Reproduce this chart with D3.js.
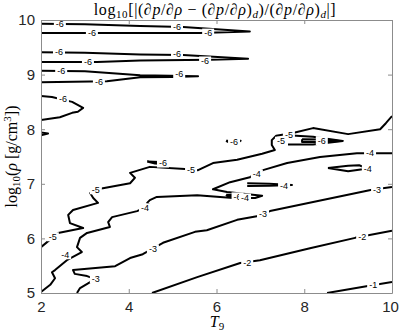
<!DOCTYPE html>
<html>
<head>
<meta charset="utf-8">
<script src="https://cdn.jsdelivr.net/npm/d3@7"></script>
<style>
  body { margin: 0; background: white; }
  text { font-family: "Liberation Sans", Arial, sans-serif; }
</style>
</head>
<body>
<div id="container"></div>
<script>
// ticks
const T9_TICKS = [2, 4, 6, 8, 10];
const RHO_TICKS = [5, 6, 7, 8, 9, 10];

// contour polylines, points are [T9, log10 rho]
const neg6_1 = [[2,9.93],[3.0,9.92],[4.26,9.89],[5.24,9.87],[6.76,9.79],[5.62,9.76],[4.26,9.76],[2,9.76]];
const neg6_2 = [[2,9.41],[3.0,9.40],[4.26,9.37],[5.24,9.36],[6.72,9.29],[5.85,9.27],[4.26,9.26],[3.28,9.23],[2,9.23]];
const neg6_3 = [[2,9.07],[3.0,9.06],[4.26,8.99],[4.94,8.98],[5.58,8.97],[5.0,8.955],[4.26,8.95],[3.5,8.88],[2,8.86]];
const neg6_4 = [[2,8.61],[2.25,8.59],[2.71,8.50],[2.96,8.39],[2.84,8.32],[2.71,8.30],[2.43,8.22],[2,8.17]];
const neg6_5 = [[2,7.94],[2.16,7.92],[2,7.89]];
const neg6_6 = [[7.95,7.815],[8.4,7.81],[8.8,7.785],[8.4,7.765],[7.95,7.765],[7.95,7.815]];
const neg6_7 = [[6.22,7.79],[6.55,7.79],[6.50,7.76],[6.25,7.77],[6.22,7.79]];
const neg6_8 = [[4.42,7.41],[4.70,7.40],[4.85,7.36],[4.60,7.37],[4.42,7.41]];
const neg6_9 = [[6.22,6.80],[6.55,6.79],[6.50,6.75],[6.25,6.77],[6.22,6.80]];

const neg5_1 = [[10,8.24],[9.86,8.11],[9.73,8.00],[9.00,7.91],[8.20,8.02],[7.74,7.93],[7.36,7.88],
  [7.26,7.80],[7.26,7.71],[7.33,7.62],[7.04,7.55],[6.47,7.44],[5.92,7.38],[5.58,7.25],[5.28,7.27],
  [4.48,7.31],[4.03,7.20],[4.14,7.11],[4.03,7.01],[3.41,6.92],[3.12,6.83],[3.19,6.74],[3.30,6.65],
  [2.73,6.52],[2.62,6.43],[2.66,6.28],[2.96,6.19],[2.39,6.10],[2,5.84]];
const neg5_2 = [[7.63,7.89],[8.2,7.86],[8.88,7.785],[8.2,7.72],[7.63,7.72]];

const neg4_1 = [[10,7.56],[9.20,7.56],[8.36,7.49],[7.61,7.38],[7.06,7.25],[6.76,7.12],[6.31,7.03],
  [5.92,6.90],[6.24,6.85],[7.04,6.78],[6.88,6.74],[6.38,6.74],[5.56,6.79],[4.64,6.76],[4.48,6.70],
  [4.42,6.65],[4.48,6.61],[4.19,6.50],[3.62,6.39],[3.53,6.30],[3.57,6.21],[3.05,6.10],[2.89,6.01],
  [2.82,5.84],[2.93,5.75],[2.59,5.60],[2.32,5.42],[2.25,5.38],[2.32,5.27],[2.21,5.15],[2,5.02]];
const neg4_2 = [[8.54,7.29],[9.0,7.33],[9.25,7.34],[9.45,7.28],[9.0,7.23],[8.54,7.29]];
const neg4_3 = [[6.70,7.01],[7.2,7.0],[7.72,6.98],[7.2,6.965],[6.70,6.96]];

const neg3 = [[10,6.94],[9.54,6.89],[7.22,6.50],[6.95,6.41],[6.47,6.34],[5.78,6.15],[5.51,6.12],
  [4.78,5.92],[4.32,5.71],[4.03,5.64],[3.69,5.49],[2.73,5.42],[2.77,5.35],[3.05,5.31],[3.19,5.27],
  [3.12,5.20],[2.89,5.09],[2.82,5.0]];
const neg2 = [[10,6.14],[9.16,6.01],[8.13,5.82],[6.99,5.60],[6.54,5.55],[5.56,5.29],[4.53,5.0]];
const neg1 = [[10,5.20],[9.45,5.13],[8.52,5.0]];

// contour labels [T9, log10 rho], grouped by level
const labels6 = [[2.43,9.93],[5.10,9.87],[3.16,9.76],[5.81,9.76],[2.41,9.41],[5.10,9.38],[3.07,9.23],
  [5.74,9.25],[2.46,9.07],[5.15,9.01],[3.32,8.86],[2.50,8.55],[8.40,7.79],[6.40,7.77],[4.78,7.38],[6.48,6.76]];
const labels5 = [[7.65,7.89],[7.47,7.78],[5.42,7.25],[3.25,6.89],[2.27,6.03]];
const labels4 = [[9.50,7.56],[6.92,7.18],[6.65,6.74],[4.37,6.56],[2.55,5.70],[9.45,7.27],[7.54,6.96]];
const labels3 = [[9.66,6.89],[7.06,6.45],[4.55,5.81],[3.25,5.26]];
const labels2 = [[9.32,6.03],[6.70,5.55]];
const labels1 = [[9.57,5.15]];

let lines = [neg6_1, neg6_2, neg6_3, neg6_4, neg6_5, neg6_6, neg6_7, neg6_8, neg6_9,
  neg5_1, neg5_2, neg4_1, neg4_2, neg4_3, neg3, neg2, neg1];
let labels = [];
[[labels6,-6],[labels5,-5],[labels4,-4],[labels3,-3],[labels2,-2],[labels1,-1]].forEach(function(g){
  g[0].forEach(function(p){ labels.push({t: p[0], r: p[1], level: g[1]}); });
});

let w = 399;
let h = 332;
let padL = 41, padR = 392, padT = 20, padB = 293;
let axisGray = "#8c8c8c";
let inkColor = "#262626";

let viz = d3.select("#container").append("svg")
    .attr("width", w)
    .attr("height", h)
    .style("background-color", "white");

let x = d3.scaleLinear().domain([2, 10]).range([padL, padR]);
let y = d3.scaleLinear().domain([5, 10]).range([padB, padT]);

viz.append("clipPath").attr("id", "plotclip")
  .append("rect")
    .attr("x", padL).attr("y", padT)
    .attr("width", padR - padL).attr("height", padB - padT);

let plot = viz.append("g").attr("clip-path", "url(#plotclip)");

let pathMaker = d3.line()
    .x(d => x(d[0]))
    .y(d => y(d[1]));

plot.selectAll(".contour").data(lines).enter()
  .append("path")
    .attr("class", "contour")
    .attr("d", pathMaker)
    .attr("fill", "none")
    .attr("stroke", "black")
    .attr("stroke-width", 2)
    .attr("stroke-linejoin", "round");

// labels sit in a white gap of the line
let lab = plot.selectAll(".clabel").data(labels).enter()
  .append("g")
    .attr("class", "clabel")
    .attr("transform", d => "translate(" + x(d.t) + "," + y(d.r) + ")");

lab.append("rect")
    .attr("x", -6).attr("y", -4.5)
    .attr("width", 12).attr("height", 9)
    .attr("fill", "white");

lab.append("text")
    .attr("text-anchor", "middle")
    .attr("dy", "0.35em")
    .style("font-size", "9px")
    .attr("fill", "black")
    .text(d => d.level);

// axes, ticks pointing in on all four sides
function styleAxis(g) {
  g.select(".domain").attr("stroke", axisGray);
  g.selectAll(".tick line").attr("stroke", axisGray);
  g.selectAll(".tick text").attr("fill", inkColor).style("font-size", "15px")
    .style("font-family", "'Liberation Sans', Arial, sans-serif");
}

let xAxisG = viz.append("g")
    .attr("transform", "translate(0," + padB + ")")
    .call(d3.axisBottom(x).tickValues(T9_TICKS).tickFormat(d3.format("d"))
      .tickSizeInner(-4).tickSizeOuter(0).tickPadding(8))
    .call(styleAxis);
// last label hugs the right edge
xAxisG.selectAll(".tick text").filter(d => d == 10).attr("dx", -2);

viz.append("g")
    .attr("transform", "translate(0," + padT + ")")
    .call(d3.axisTop(x).tickValues(T9_TICKS).tickFormat("")
      .tickSizeInner(-4).tickSizeOuter(0))
    .call(styleAxis);

viz.append("g")
    .attr("transform", "translate(" + padL + ",0)")
    .call(d3.axisLeft(y).tickValues(RHO_TICKS).tickFormat(d3.format("d"))
      .tickSizeInner(-4).tickSizeOuter(0).tickPadding(6))
    .call(styleAxis);

viz.append("g")
    .attr("transform", "translate(" + padR + ",0)")
    .call(d3.axisRight(y).tickValues(RHO_TICKS).tickFormat("")
      .tickSizeInner(-4).tickSizeOuter(0))
    .call(styleAxis);

// title (latex-ish)
let serif = "'Liberation Serif', 'DejaVu Serif', serif";
let title = viz.append("text")
    .attr("x", 215).attr("y", 15)
    .attr("text-anchor", "middle")
    .attr("fill", "black")
    .style("font-family", serif)
    .style("font-size", "16px")
    .style("letter-spacing", "0.6px");

function pieces(sel, parts) {
  parts.forEach(function(p) {
    let t = sel.append("tspan").text(p[0]);
    if (p[1] == "i") t.style("font-style", "italic");
    if (p[1] == "sub" || p[1] == "subi") {
      t.attr("dy", 3).style("font-size", "11px");
      if (p[1] == "subi") t.style("font-style", "italic");
    }
    if (p[1] == "sup") t.attr("dy", -6).style("font-size", "11px");
    if (p[2]) t.attr("dy", p[2]);
  });
}

pieces(title, [["log"],["10","sub"],["[|(∂","",-3],["p","i"],["/∂"],["ρ","i"],[" − (∂"],["p","i"],["/∂"],["ρ","i"],[")"],
  ["d","subi"],[")/(∂","",-3],["p","i"],["/∂"],["ρ","i"],[")"],["d","subi"],["|]","",-3]]);

// y label
let ylab = viz.append("text")
    .attr("transform", "translate(17," + ((padT + padB) / 2) + ") rotate(-90)")
    .attr("text-anchor", "middle")
    .attr("fill", "black")
    .style("font-family", serif)
    .style("font-size", "16px");
pieces(ylab, [["log"],["10","sub"],["(","",-3],["ρ","i"],[" [g/cm"],["3","sup"],["])","",6]]);

// x label
let xlab = viz.append("text")
    .attr("x", 217).attr("y", 327)
    .attr("text-anchor", "middle")
    .attr("fill", "black")
    .style("font-family", serif)
    .style("font-size", "16px");
pieces(xlab, [["T","i"],["9","sub"]]);
</script>
</body>
</html>
